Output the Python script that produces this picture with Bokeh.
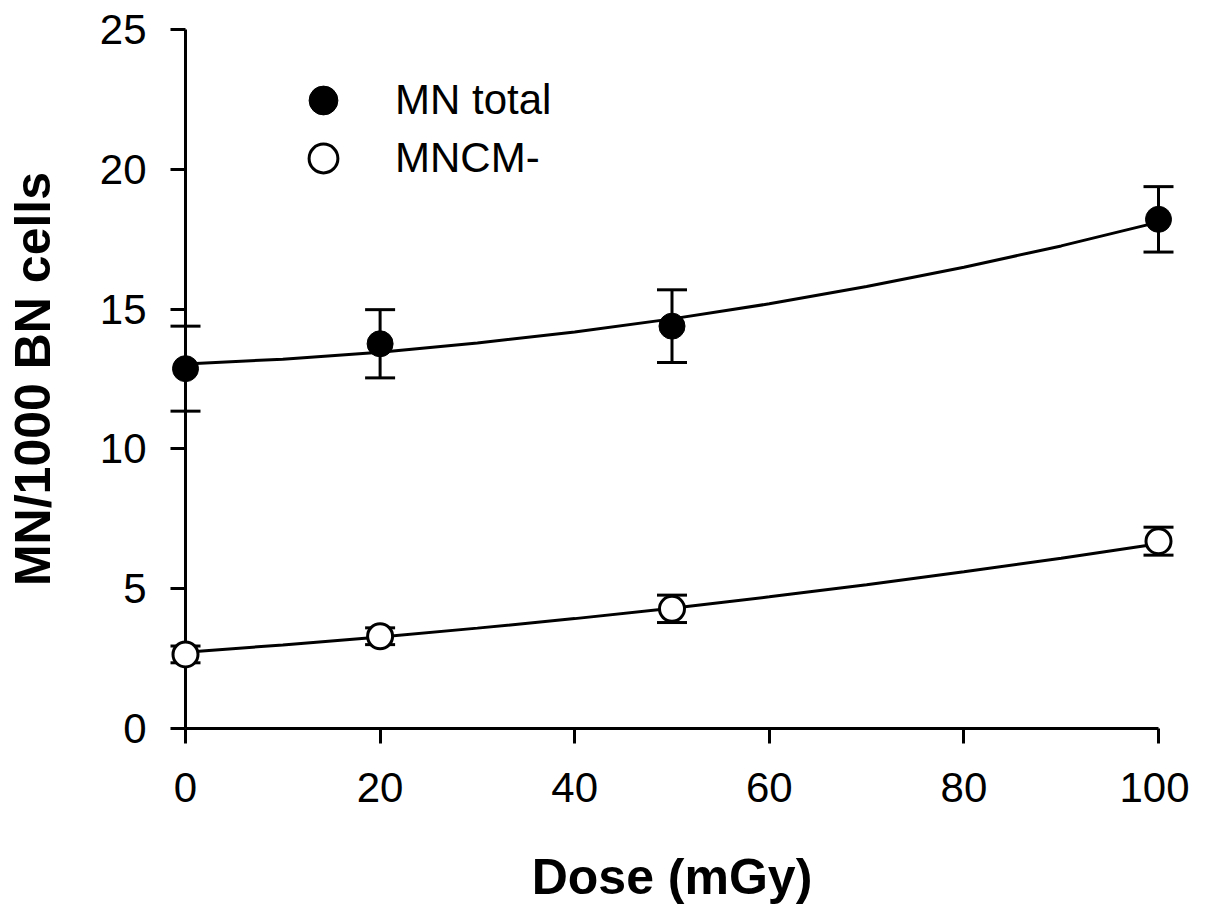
from bokeh.plotting import figure
from bokeh.models import Legend, LegendItem, Range1d
from bokeh.embed import file_html
from bokeh.resources import INLINE

dose = [0, 20, 50, 100]
mn_total = [12.87, 13.76, 14.39, 18.21]
mn_total_err = [1.52, 1.22, 1.30, 1.17]
mncm = [2.65, 3.30, 4.28, 6.70]
mncm_err = [0.30, 0.30, 0.49, 0.50]

# fitted curves
fit_dose = [0, 10, 20, 30, 40, 50, 60, 70, 80, 90, 100]
fit_total = [13.04, 13.21, 13.46, 13.79, 14.18, 14.65, 15.19, 15.81, 16.50, 17.26, 18.11]
fit_mncm = [2.73, 2.99, 3.27, 3.59, 3.93, 4.30, 4.71, 5.14, 5.61, 6.09, 6.61]

x_ticks = [0, 20, 40, 60, 80, 100]
y_ticks = [0, 5, 10, 15, 20, 25]

FONT = "Liberation Sans"

p = figure(width=1189, height=920, output_backend="svg", toolbar_location=None,
           x_range=Range1d(0, 100), y_range=Range1d(0, 25),
           min_border_left=185, min_border_right=31, min_border_top=29, min_border_bottom=192)
p.outline_line_color = None
p.grid.visible = False
p.background_fill_color = "white"

# axes
p.xaxis.ticker = x_ticks
p.yaxis.ticker = y_ticks
for ax in (p.xaxis, p.yaxis):
    ax.axis_line_width = 3
    ax.axis_line_color = "black"
    ax.major_tick_line_width = 3
    ax.major_tick_in = 0
    ax.major_tick_out = 15
    ax.minor_tick_line_color = None
    ax.major_label_text_font = FONT
    ax.major_label_text_font_size = "42px"
    ax.major_label_text_color = "black"
    ax.axis_label_text_font = FONT
    ax.axis_label_text_font_size = "50px"
    ax.axis_label_text_font_style = "bold"
    ax.axis_label_text_color = "black"
p.xaxis.axis_label = "Dose (mGy)"
p.yaxis.axis_label = "MN/1000 BN cells"
p.xaxis.major_label_standoff = 29
p.yaxis.major_label_standoff = 24
p.xaxis.axis_label_standoff = 44
p.yaxis.axis_label_standoff = 36

# fitted curves
p.line(fit_dose, fit_total, line_color="black", line_width=3)
p.line(fit_dose, fit_mncm, line_color="black", line_width=3)

# error bars
for ys, es in ((mn_total, mn_total_err), (mncm, mncm_err)):
    upper = [y + e for y, e in zip(ys, es)]
    lower = [y - e for y, e in zip(ys, es)]
    p.segment(x0=dose, y0=lower, x1=dose, y1=upper, line_color="black", line_width=3, level="overlay")
    p.scatter(dose, upper, marker="dash", size=30, line_color="black", line_width=3, level="overlay")
    p.scatter(dose, lower, marker="dash", size=30, line_color="black", line_width=3, level="overlay")

# points
r_total = p.scatter(dose, mn_total, size=26, fill_color="black", line_color="black",
                    line_width=1, level="overlay")
r_mncm = p.scatter(dose, mncm, size=25, fill_color="white", line_color="black",
                   line_width=3, level="overlay")

# legend, one per row so the markers keep their size
for item, loc in ((LegendItem(label="MN total", renderers=[r_total]), (102, 592)),
                  (LegendItem(label="MNCM-", renderers=[r_mncm]), (102, 534))):
    leg = Legend(items=[item], location=loc, glyph_width=72, glyph_height=72,
                 label_standoff=36, padding=0, margin=0, spacing=0,
                 border_line_alpha=0, background_fill_alpha=0,
                 label_text_font=FONT, label_text_font_size="42px", label_text_color="black")
    p.add_layout(leg)

open("out.html", "w").write(file_html(p, INLINE))
